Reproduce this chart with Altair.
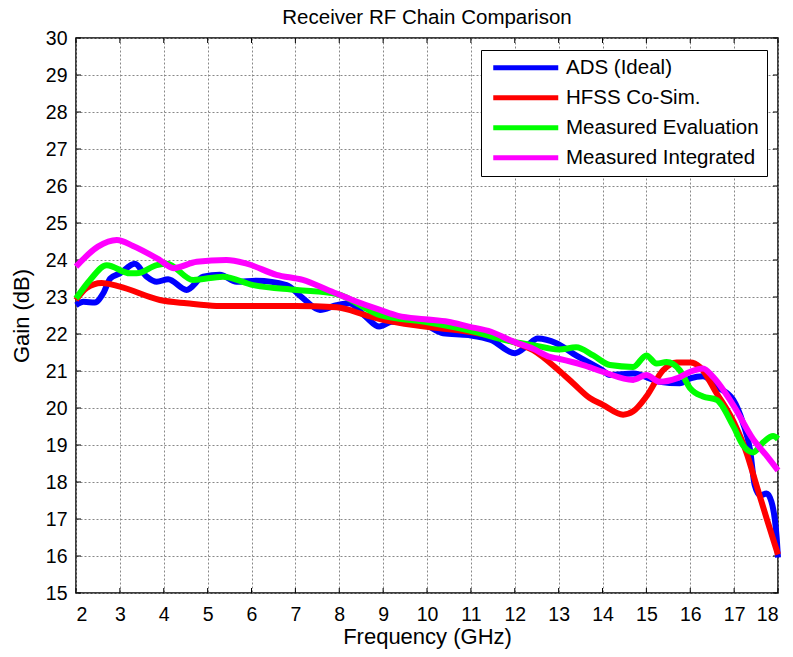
import altair as alt
import pandas as pd

# ---------------- data ----------------
ads_f = [2.0, 2.17, 2.43, 2.62, 2.78, 3.0, 3.34, 3.61, 3.84, 4.1, 4.52, 4.9, 5.28, 5.66, 6.12,
         6.8, 7.17, 7.56, 7.94, 8.23, 8.6, 8.91, 9.2, 9.95, 10.37, 10.95, 11.46, 12.0, 12.3,
         12.52, 12.95, 13.33, 14.0, 14.17, 14.7, 15.3, 15.76, 16.0, 16.29, 16.6, 16.98, 17.2,
         17.36, 17.47, 17.59, 17.74, 17.85, 17.97, 18.0]
ads_g = [22.78, 22.87, 22.85, 23.1, 23.5, 23.64, 23.9, 23.55, 23.41, 23.48, 23.19, 23.55, 23.6,
         23.41, 23.44, 23.32, 22.97, 22.65, 22.78, 22.83, 22.47, 22.2, 22.33, 22.24, 22.02, 21.97,
         21.84, 21.48, 21.7, 21.88, 21.75, 21.47, 21.02, 20.89, 20.93, 20.71, 20.67, 20.8, 20.86,
         20.58, 20.22, 19.6, 18.89, 17.91, 17.64, 17.69, 17.47, 16.49, 15.96]

hfss_f = [2.0, 2.24, 2.58, 3.0, 3.91, 4.52, 5.2, 6.0, 7.0, 7.94, 8.6, 8.93, 9.95, 10.95, 11.96,
          12.42, 13.0, 13.33, 13.71, 14.0, 14.47, 14.7, 15.0, 15.38, 15.69, 16.0, 16.22, 16.6,
          17.0, 17.28, 17.51, 17.74, 18.0]
hfss_g = [22.92, 23.24, 23.38, 23.28, 22.92, 22.83, 22.76, 22.76, 22.76, 22.72, 22.51, 22.4,
          22.2, 22.06, 21.79, 21.56, 21.02, 20.67, 20.27, 20.09, 19.82, 19.91, 20.31, 21.02,
          21.23, 21.23, 21.11, 20.4, 19.6, 18.8, 17.91, 17.02, 16.04]

meas_eval_f = [2.0, 2.32, 2.7, 3.23, 3.38, 3.84, 4.07, 4.67, 5.35, 6.04, 7.03, 7.94, 8.93, 9.95,
               10.95, 11.96, 12.42, 13.0, 13.4, 13.79, 14.17, 14.7, 15.0, 15.23, 15.46, 15.76,
               16.0, 16.29, 16.6, 16.98, 17.21, 17.43, 17.66, 17.89, 18.0]
meas_eval_g = [22.96, 23.46, 23.86, 23.64, 23.64, 23.86, 23.9, 23.46, 23.55, 23.32, 23.19, 23.08,
               22.51, 22.33, 22.1, 21.79, 21.7, 21.58, 21.64, 21.42, 21.16, 21.11, 21.42, 21.2,
               21.24, 21.02, 20.53, 20.31, 20.22, 19.51, 18.98, 18.8, 19.07, 19.24, 19.16]

meas_int_f = [2.0, 2.5, 2.93, 3.3, 3.91, 4.22, 4.75, 5.43, 5.89, 6.57, 7.17, 7.74, 8.3, 8.93,
              9.34, 9.95, 10.48, 10.95, 11.46, 11.96, 12.42, 12.8, 13.0, 13.56, 14.0, 14.7, 15.0,
              15.3, 15.69, 16.0, 16.29, 16.52, 17.0, 17.43, 17.74, 18.0]
meas_int_g = [23.82, 24.36, 24.54, 24.38, 24.0, 23.78, 23.95, 24.0, 23.9, 23.6, 23.46, 23.19,
              22.92, 22.65, 22.49, 22.4, 22.33, 22.2, 22.06, 21.8, 21.6, 21.38, 21.33, 21.16,
              20.98, 20.76, 20.89, 20.71, 20.8, 20.98, 21.07, 20.84, 20.04, 19.16, 18.71, 18.31]

series_names = ["ADS (Ideal)", "HFSS Co-Sim.", "Measured Evaluation", "Measured Integrated"]
series_colors = ["#0000FF", "#FF0000", "#00FF00", "#FF00FF"]
x_ticks = list(range(2, 19))
y_ticks = list(range(15, 31))

# ---------------- tables ----------------
rows = []
for name, fs, gs in zip(series_names,
                        [ads_f, hfss_f, meas_eval_f, meas_int_f],
                        [ads_g, hfss_g, meas_eval_g, meas_int_g]):
    for f, g in zip(fs, gs):
        rows.append({"series": name, "freq": f, "gain": g})
df = pd.DataFrame(rows)
xt_df = pd.DataFrame({"freq": x_ticks})
yt_df = pd.DataFrame({"gain": y_ticks})

FONT = "Liberation Sans"
W, H = 702, 555
TK = 5  # inward tick length

x_scale = alt.Scale(domain=[2, 18], nice=False)
y_scale = alt.Scale(domain=[15, 30], nice=False, zero=False)
x_axis = alt.Axis(values=x_ticks, title="Frequency (GHz)", format="d", labelOverlap=False)
y_axis = alt.Axis(values=y_ticks, title="Gain (dB)", format="d", labelOverlap=False)

lines = alt.Chart(df).mark_line(strokeWidth=6, interpolate="monotone").encode(
    x=alt.X("freq:Q", scale=x_scale, axis=x_axis),
    y=alt.Y("gain:Q", scale=y_scale, axis=y_axis),
    color=alt.Color("series:N",
                    scale=alt.Scale(domain=series_names, range=series_colors),
                    sort=series_names,
                    legend=alt.Legend(
                        title=None, orient="none", legendX=405, legendY=12,
                        direction="vertical",
                        symbolType="M-6.5,0H6.5", symbolSize=100, symbolStrokeWidth=5,
                        symbolOffset=27,
                        labelFontSize=20.5, labelFont=FONT, labelColor="black",
                        labelOffset=30, labelLimit=400,
                        fillColor="white", strokeColor="black", padding=7.5,
                        rowPadding=9)),
)

tick_x_bottom = alt.Chart(xt_df).mark_rule(color="black", strokeWidth=1).encode(
    x=alt.X("freq:Q", scale=x_scale, axis=x_axis), y=alt.value(H), y2=alt.value(H - TK))
tick_x_top = alt.Chart(xt_df).mark_rule(color="black", strokeWidth=1).encode(
    x=alt.X("freq:Q", scale=x_scale, axis=x_axis), y=alt.value(0), y2=alt.value(TK))
tick_y_left = alt.Chart(yt_df).mark_rule(color="black", strokeWidth=1).encode(
    y=alt.Y("gain:Q", scale=y_scale, axis=y_axis), x=alt.value(0), x2=alt.value(TK))
tick_y_right = alt.Chart(yt_df).mark_rule(color="black", strokeWidth=1).encode(
    y=alt.Y("gain:Q", scale=y_scale, axis=y_axis), x=alt.value(W), x2=alt.value(W - TK))

chart = alt.layer(
    tick_x_bottom, tick_x_top, tick_y_left, tick_y_right, lines
).properties(
    width=W, height=H,
    title=alt.TitleParams("Receiver RF Chain Comparison", fontSize=20.5, font=FONT,
                          fontWeight="normal", color="black", offset=0),
    autosize=alt.AutoSizeParams(type="none"),
    padding={"left": 76, "top": 38, "right": 15, "bottom": 64},
).configure_view(
    stroke="black", strokeWidth=1.5
).configure_axis(
    grid=True, gridColor="#888888", gridDash=[2, 2], gridWidth=1,
    domain=False, ticks=False,
    labelFont=FONT, labelFontSize=19.5, labelColor="black",
    titleFont=FONT, titleFontSize=22, titleColor="black", titleFontWeight="normal",
).configure_axisX(labelPadding=12, titlePadding=3).configure_axisY(labelPadding=9, titlePadding=12)

chart.save("out.html", embed_options={"renderer": "svg", "actions": False})
